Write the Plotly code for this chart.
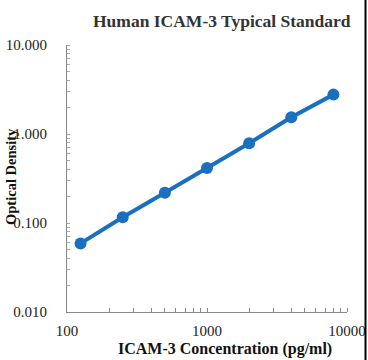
import plotly.graph_objects as go

concentration = [125, 250, 500, 1000, 2000, 4000, 8000]
optical_density = [0.059, 0.116, 0.219, 0.415, 0.787, 1.54, 2.77]

x_tick_vals = [100, 1000, 10000]
x_tick_text = ["100", "1000", "10000"]
y_tick_vals = [0.01, 0.1, 1, 10]
y_tick_text = ["0.010", "0.100", "1.000", "10.000"]

title_text = "Human ICAM-3 Typical Standard"
x_title = "ICAM-3 Concentration (pg/ml)"
y_title = "Optical Density"

blue = "#1a6fbf"
font_family = "Liberation Serif, Times New Roman, serif"

fig = go.Figure()
fig.add_trace(go.Scatter(
    x=concentration, y=optical_density,
    mode="lines+markers",
    line=dict(color=blue, width=4),
    marker=dict(color=blue, size=12),
    showlegend=False,
))

fig.update_layout(
    width=368, height=360,
    margin=dict(l=67, r=21, t=45, b=48, autoexpand=False),
    paper_bgcolor="white", plot_bgcolor="white",
    font=dict(family=font_family, color="#222222", size=15),
    annotations=[
        dict(text="<b>" + title_text + "</b>", xref="paper", yref="paper",
             x=(222 - 67) / 280, y=(312 - 21) / 267, xanchor="center", yanchor="middle",
             showarrow=False, font=dict(size=17.5, color="#333333", family=font_family)),
        dict(text="<b>" + x_title + "</b>", xref="paper", yref="paper",
             x=(225 - 67) / 280, y=(312 - 349) / 267, xanchor="center", yanchor="middle",
             showarrow=False, font=dict(size=16, color="#111111", family=font_family)),
        dict(text="<b>" + y_title + "</b>", xref="paper", yref="paper",
             x=(11 - 67) / 280, y=(312 - 177) / 267, xanchor="center", yanchor="middle",
             textangle=-90,
             showarrow=False, font=dict(size=14.5, color="#111111", family=font_family)),
    ],
    shapes=[
        dict(type="line", xref="paper", yref="paper",
             x0=(365.5 - 67) / 280, x1=(365.5 - 67) / 280, y0=-0.3, y1=1.3,
             line=dict(color="black", width=2)),
    ],
)

fig.update_xaxes(
    type="log", range=[2, 4],
    tickvals=x_tick_vals, ticktext=x_tick_text,
    showgrid=False, zeroline=False,
    showline=True, linecolor="#888888", linewidth=1,
    ticks="", ticklabelstandoff=5,
    minor=dict(ticks="inside", ticklen=4, tickcolor="#888888",
               tickvals=[200, 300, 400, 500, 600, 700, 800, 900,
                         1000, 2000, 3000, 4000, 5000, 6000, 7000, 8000, 9000, 10000],
               showgrid=False),
    tickfont=dict(size=15, color="#222222"),
)
fig.update_yaxes(
    type="log", range=[-2, 1],
    tickvals=y_tick_vals, ticktext=y_tick_text,
    showgrid=False, zeroline=False,
    showline=True, linecolor="#888888", linewidth=1,
    ticks="", ticklabelstandoff=16,
    minor=dict(ticks="inside", ticklen=3, tickcolor="#aaaaaa",
               tickvals=[0.02, 0.03, 0.04, 0.05, 0.06, 0.07, 0.08, 0.09, 0.1,
                         0.2, 0.3, 0.4, 0.5, 0.6, 0.7, 0.8, 0.9, 1,
                         2, 3, 4, 5, 6, 7, 8, 9, 10],
               showgrid=False),
    tickfont=dict(size=15, color="#222222"),
)

fig.write_html(
    "out.html",
    config={"displayModeBar": False},
    post_script="document.body.style.margin='0';document.body.style.overflow='hidden';",
)
